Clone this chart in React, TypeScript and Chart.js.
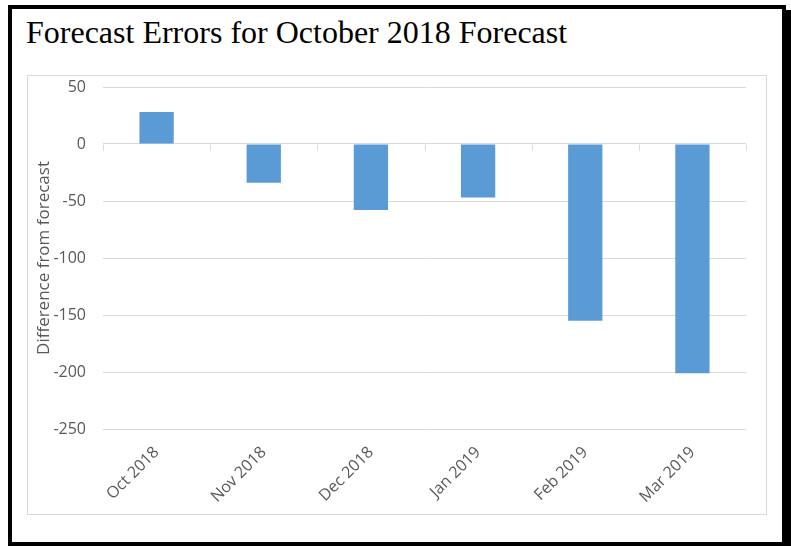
import React, { useEffect, useRef } from "react";
import { Chart, registerables } from "chart.js";

Chart.register(...registerables);

const TITLE = "Forecast Errors for October 2018 Forecast";
const Y_TITLE = "Difference from forecast";
const CATEGORIES = ["Oct 2018", "Nov 2018", "Dec 2018", "Jan 2019", "Feb 2019", "Mar 2019"];
const ERRORS = [28, -34, -58, -47, -155, -201];
const Y_MIN = -250;
const Y_MAX = 50;
const Y_STEP = 50;

const BAR_COLOR = "#5b9bd5";
const GRID_COLOR = "#d9d9d9";
const TEXT_COLOR = "#595959";
const FONT = "'Open Sans', 'Liberation Sans', sans-serif";

const zeroTicks = {
  id: "zeroTicks",
  afterDatasetsDraw(chart: any) {
    const x = chart.scales.x;
    const y = chart.scales.y;
    const n = CATEGORIES.length;
    const y0 = Math.round(y.getPixelForValue(0)) + 0.5;
    const ctx = chart.ctx;
    ctx.save();
    ctx.strokeStyle = GRID_COLOR;
    ctx.lineWidth = 1;
    ctx.beginPath();
    for (let i = 0; i <= n; i++) {
      const px = Math.round(x.left + (i * (x.right - x.left)) / n) + 0.5;
      ctx.moveTo(px, y0);
      ctx.lineTo(px, y0 + 6);
    }
    ctx.stroke();
    ctx.restore();
  },
};

export default function App() {
  const ref = useRef<HTMLCanvasElement | null>(null);

  useEffect(() => {
    if (!ref.current) return;
    const chart = new Chart(ref.current, {
      type: "bar",
      data: {
        labels: CATEGORIES,
        datasets: [
          {
            data: ERRORS,
            backgroundColor: BAR_COLOR,
            borderWidth: 0,
            categoryPercentage: 1,
            barPercentage: 0.32,
          },
        ],
      },
      options: {
        animation: false,
        responsive: false,
        maintainAspectRatio: false,
        layout: { padding: { top: 11, right: 20, left: 0, bottom: 0 } },
        plugins: {
          legend: { display: false },
          tooltip: { enabled: false },
          title: { display: false },
        },
        scales: {
          x: {
            grid: { display: false, drawTicks: false },
            border: { display: false },
            ticks: {
              color: TEXT_COLOR,
              font: { family: FONT, size: 16 },
              minRotation: 45,
              maxRotation: 45,
              padding: 14,
              autoSkip: false,
            },
            afterFit: (s: any) => {
              s.height = 85;
              s.paddingLeft = 0;
              s.paddingRight = 0;
            },
          },
          y: {
            min: Y_MIN,
            max: Y_MAX,
            grid: { color: GRID_COLOR, drawTicks: false, lineWidth: 1 },
            border: { display: false },
            ticks: {
              stepSize: Y_STEP,
              color: TEXT_COLOR,
              font: { family: FONT, size: 16 },
              padding: 17,
            },
            title: {
              display: true,
              text: Y_TITLE,
              color: TEXT_COLOR,
              font: { family: FONT, size: 17 },
              padding: { top: 6, bottom: 0 },
            },
            afterFit: (s: any) => {
              s.width = 75;
              s.paddingTop = 0;
              s.paddingBottom = 0;
            },
          },
        },
      },
      plugins: [zeroTicks],
    });
    return () => chart.destroy();
  }, []);

  return (
    <div style={{ position: "absolute", left: 0, top: 0, width: 791, height: 546, background: "#fff", overflow: "hidden" }}>
      <div
        style={{
          position: "absolute",
          left: 8,
          top: 5,
          width: 770,
          height: 533,
          border: "4px solid #000",
          boxShadow: "5px 5px 0 #000",
          background: "#fff",
        }}
      />
      <div
        style={{
          position: "absolute",
          left: 26,
          top: 16,
          fontFamily: "'Liberation Serif', 'Times New Roman', serif",
          fontSize: 32,
          lineHeight: "32px",
          color: "#000",
          whiteSpace: "nowrap",
        }}
      >
        {TITLE}
      </div>
      <div
        style={{
          position: "absolute",
          left: 27,
          top: 75,
          width: 738,
          height: 438,
          border: `1px solid ${GRID_COLOR}`,
        }}
      >
        <canvas ref={ref} width={738} height={438} style={{ display: "block" }} />
      </div>
    </div>
  );
}
